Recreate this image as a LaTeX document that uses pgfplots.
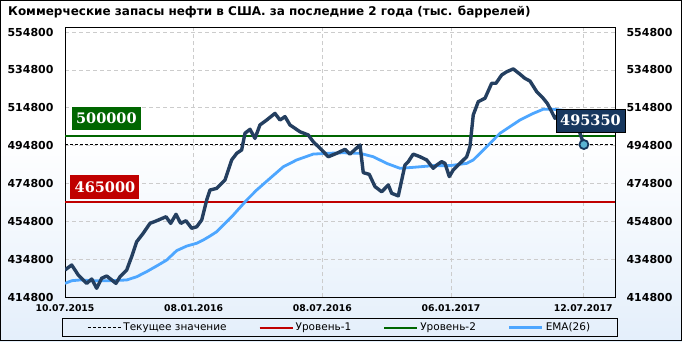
\documentclass[border=0pt]{standalone}
\usepackage{pgfplots}
\pgfplotsset{compat=1.18}
\usepackage{fontspec}
\setmainfont{DejaVu Sans}
\newfontfamily\lblfont{DejaVu Serif}
\definecolor{navy}{RGB}{36,63,96}
\definecolor{boxnavy}{RGB}{23,55,94}
\definecolor{emablue}{RGB}{77,166,255}
\definecolor{lvlred}{RGB}{192,0,0}
\definecolor{lvlgreen}{RGB}{0,102,0}
\definecolor{bgblue}{RGB}{205,225,247}
\definecolor{markfill}{RGB}{91,180,212}
\pgfdeclareverticalshading{bgshade}{100bp}{color(0bp)=(bgblue); color(55bp)=(white); color(100bp)=(white)}

\pgfplotstableread{
d v
0 429100
9.5 431700
18.8 426400
30.7 422000
37.8 424300
44.8 419400
51.9 424700
59.0 425900
66.1 423800
72.1 422000
77.8 425500
87.3 429100
94.3 436100
101.4 444000
110.7 448500
120.2 453700
129.7 455100
142.9 457200
149.5 453700
157.0 458500
163.7 453700
171.1 455100
179.2 451100
186.3 451900
193.4 455500
200.4 466000
205.1 471300
214.6 472200
226.3 476600
235.8 487200
242.9 490700
249.9 492500
254.6 501300
261.7 503400
268.7 498600
275.8 505700
285.3 508300
297.0 511800
304.1 508300
311.2 510100
318.2 505700
332.4 502100
344.1 500400
351.2 496800
360.7 493400
372.4 488900
384.3 490700
396.0 492800
403.1 490300
417.3 495100
421.9 480500
430.4 479600
438.5 473100
448.0 470400
457.3 474000
462.1 469600
471.4 468200
480.9 484500
485.6 486300
492.6 490300
502.1 488900
511.6 487200
520.9 482800
525.7 484500
532.8 486300
537.5 485400
543.6 478400
549.2 481900
558.7 485400
568.2 488900
572.8 494200
577.5 511000
584.6 518000
594.1 519800
603.5 527700
609.6 527700
617.7 532100
624.8 533800
634.1 535300
643.6 532500
650.6 530300
657.7 528900
667.2 523300
675.7 520100
682.2 517100
688.4 512700
693.1 509200
700 512000
707 509100
714 509200
721 509000
727 502900
734 495350
}\stocks

\pgfplotstableread{
d v
0 422000
9.5 423400
21.2 423800
40.0 423400
63.6 423400
87.3 423800
101.4 425500
115.6 428200
129.7 431200
143.8 434300
158.0 439300
172.1 441700
186.3 443200
195.6 444900
205.1 447000
214.6 449300
238.0 458100
257.0 466000
271.1 471300
290.0 477500
308.8 483600
327.7 487200
351.2 490300
370.2 490700
393.6 491000
417.3 490700
436.1 488900
455.0 485400
473.8 482800
492.6 483300
520.9 484200
544.6 484200
568.2 485400
577.5 487200
587.0 490700
615.3 501300
643.6 508300
662.4 511800
676.5 514000
690.7 514000
707 513300
734 511800
}\ema

\begin{document}
\begin{tikzpicture}[x=1pt,y=1pt]
\shade[shading=bgshade] (0,0) rectangle (682,341);
\draw[black, line width=1pt] (0.5,0.5) rectangle (681.5,340.5);
\node[anchor=west, font=\bfseries\fontsize{12}{14}\selectfont, inner sep=0] at (8,329) {Коммерческие запасы нефти в США. за последние 2 года (тыс. баррелей)};
\begin{axis}[
  at={(65pt,44pt)}, anchor=south west,
  width=550pt, height=270pt, scale only axis,
  xmin=0, xmax=778, ymin=414800, ymax=557440,
  scaled y ticks=false, scaled x ticks=false,
  axis line style={black, line width=0.8pt},
  xtick={0,182,364,546,733},
  xticklabels={10.07.2015,08.01.2016,08.07.2016,06.01.2017,12.07.2017},
  ytick={414800,434800,454800,474800,494800,514800,534800,554800},
  yticklabels={414800,434800,454800,474800,494800,514800,534800,554800},
  yticklabel style={font=\bfseries\fontsize{11}{12}\selectfont, xshift=-8pt},
  xticklabel style={font=\bfseries\fontsize{9.3}{11}\selectfont, yshift=-4pt},
  major tick length=0pt,
  grid=major,
  major grid style={gray!40, line width=0.6pt, dash pattern=on 4pt off 3pt},
  clip mode=individual,
  legend columns=4,
  legend style={at={(0.4995,-0.113)}, anchor=center, draw=black, line width=0.8pt, fill=none,
    font=\fontsize{10.5}{12}\selectfont, inner xsep=25pt, inner ysep=2pt,
    /tikz/every even column/.append style={column sep=30pt}},
  legend image code/.code={\draw[#1] (0pt,0pt) -- (33pt,0pt);},
]
\addlegendimage{draw=black, line width=1.1pt, dash pattern=on 3pt off 2pt}
\addlegendentry{Текущее значение}
\addlegendimage{draw=lvlred, line width=2pt}
\addlegendentry{Уровень-1}
\addlegendimage{draw=lvlgreen, line width=2pt}
\addlegendentry{Уровень-2}
\addlegendimage{draw=emablue, line width=2.8pt}
\addlegendentry{EMA(26)}
\addplot[draw=black, line width=1.1pt, dash pattern=on 3pt off 2pt, forget plot] coordinates {(0,495350) (778,495350)};
\addplot[draw=lvlred, line width=1.6pt, forget plot] coordinates {(0,465000) (778,465000)};
\addplot[draw=lvlgreen, line width=1.6pt, forget plot] coordinates {(0,500000) (778,500000)};
\addplot[draw=emablue, line width=2.8pt, line join=round, forget plot] table[x=d,y=v] {\ema};
\addplot[draw=navy, line width=3.4pt, line join=round, forget plot] table[x=d,y=v] {\stocks};
\addplot[only marks, mark=*, mark size=4.5pt, mark options={fill=markfill, draw=boxnavy, line width=1.8pt}, forget plot] coordinates {(734,495350)};
\node[fill=lvlgreen, text=white, font=\lblfont\bfseries\fontsize{14.5}{14.5}\selectfont, minimum width=69pt, minimum height=23pt, inner sep=0pt] at (axis cs:58.5,509366) {500000};
\node[fill=lvlred, text=white, font=\lblfont\bfseries\fontsize{14.5}{14.5}\selectfont, minimum width=69pt, minimum height=24pt, inner sep=0pt] at (axis cs:56.5,472913) {465000};
\node[fill=boxnavy, draw=black, line width=0.6pt, text=white, font=\lblfont\bfseries\fontsize{14.5}{14.5}\selectfont, minimum width=69pt, minimum height=23pt, inner sep=0pt] at (axis cs:743.3,508151) {495350};
\end{axis}
\begin{axis}[
  at={(65pt,44pt)}, anchor=south west,
  width=550pt, height=270pt, scale only axis,
  xmin=0, xmax=778, ymin=414800, ymax=557440,
  scaled y ticks=false, scaled x ticks=false,
  axis x line=none, axis y line*=right,
  axis line style={draw=none},
  ytick={414800,434800,454800,474800,494800,514800,534800,554800},
  yticklabels={414800,434800,454800,474800,494800,514800,534800,554800},
  yticklabel style={font=\bfseries\fontsize{11}{12}\selectfont, xshift=8pt},
  major tick length=0pt,
]
\end{axis}
\end{tikzpicture}
\end{document}
